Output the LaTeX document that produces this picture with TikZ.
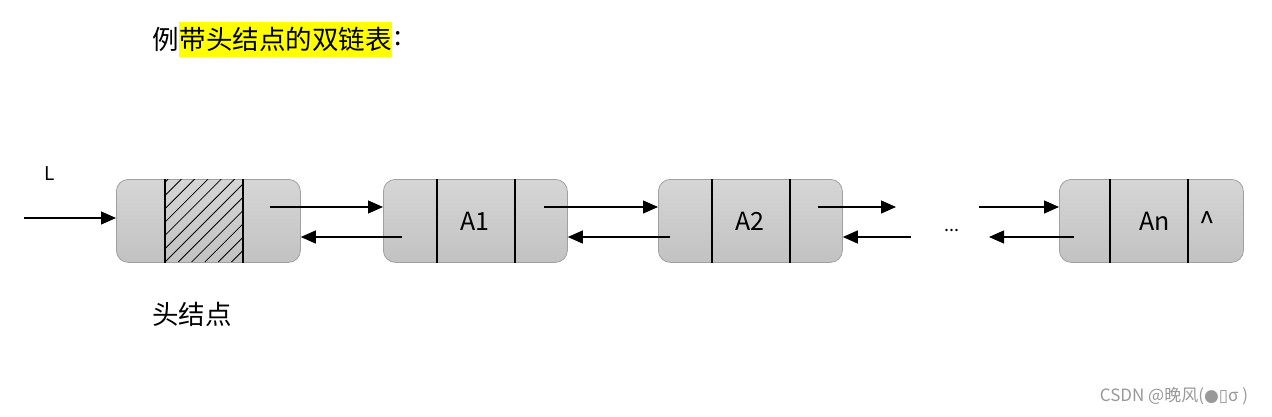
\documentclass[tikz,border=0pt]{standalone}
\usepackage{fontspec}
\setmainfont{Liberation Sans}
\newfontfamily\cjk{Noto Sans CJK SC}
\newfontfamily\djv{DejaVu Sans}
\usetikzlibrary{arrows.meta}
\definecolor{boxtop}{RGB}{214,214,214}
\definecolor{boxbot}{RGB}{194,194,194}
\definecolor{boxline}{RGB}{160,160,160}
\definecolor{hl}{RGB}{255,255,0}
\tikzset{
  cellbox/.style={draw=boxline, line width=0.8pt, rounded corners=12pt, top color=boxtop, bottom color=boxbot, minimum width=184pt, minimum height=83pt, inner sep=0pt, anchor=north west},
  divider/.style={draw=black, line width=1.1pt},
  arr/.style={draw=black, line width=1.2pt, -{Triangle[length=15pt,width=13pt]}},
  lbl/.style={font=\cjk\fontsize{25}{30}\selectfont, inner sep=0pt},
  ttl/.style={font=\cjk\fontsize{26.5}{31}\selectfont, inner sep=0pt}
}
\begin{document}
\begin{tikzpicture}[x=1pt,y=-1pt]
\path[use as bounding box, fill=white] (0,0) rectangle (1272,416);
% title
\node[ttl, anchor=west] (t1) at (152,39) {例};
\node[ttl, anchor=west, fill=hl, minimum height=35pt, inner xsep=0.5pt] (t2) at (t1.east) {带头结点的双链表};
\node[ttl, anchor=west, inner xsep=2pt] (t3) at (t2.east) {:};
% boxes
\node[cellbox] (h) at (116,179) {};
\node[cellbox] (a1) at (383,179) {};
\node[cellbox] (a2) at (658,179) {};
\node[cellbox] (an) at (1059,179) {};
% hatch
\begin{scope}
\clip (165,179) rectangle (243,262);
\foreach \k in {-7,...,7} {
  \draw[line width=0.8pt] ({165+\k*13.3},262) -- ({165+\k*13.3+83},179);
}
\end{scope}
% dividers
\foreach \b/\p/\q in {h/49/127, a1/54/132, a2/54/132, an/51/129} {
  \draw[divider] ([xshift=\p pt]\b.north west) -- ([xshift=\p pt]\b.south west);
  \draw[divider] ([xshift=\q pt]\b.north west) -- ([xshift=\q pt]\b.south west);
}
% labels
\node[lbl] (la1) at (475,221) {A1};
\node[lbl] (la2) at (750,221) {A2};
\node[lbl] (lan) at (1155,221) {An};
\node[lbl, font=\cjk\fontsize{28}{32}\selectfont] (lcar) at (1207,222) {\^{}};
\node[lbl, font=\cjk\fontsize{19}{24}\selectfont] (lL) at (50,174) {L};
\node[ttl, anchor=west] (lhead) at (152,314) {头结点};
\node[lbl, font=\cjk\fontsize{18}{22}\selectfont] (dots) at (952,230) {...};
% arrows
\coordinate (L0) at (24,218);
\draw[arr] (L0) -- (L0 -| h.west);
\coordinate (hn) at (270,207);
\draw[arr] (hn) -- (hn -| a1.west);
\coordinate (a1p) at (402,237);
\draw[arr] (a1p) -- (a1p -| h.east);
\coordinate (a1n) at (544,207);
\draw[arr] (a1n) -- (a1n -| a2.west);
\coordinate (a2p) at (670,237);
\draw[arr] (a2p) -- (a2p -| a1.east);
\coordinate (a2n) at (818,207);
\coordinate (a2ne) at (896,207);
\draw[arr] (a2n) -- (a2ne);
\coordinate (mp) at (911,237);
\draw[arr] (mp) -- (mp -| a2.east);
\coordinate (mn) at (979,207);
\draw[arr] (mn) -- (mn -| an.west);
\coordinate (anp) at (1074,237);
\coordinate (anpe) at (989,237);
\draw[arr] (anp) -- (anpe);
% watermark
\node[inner sep=0pt, text=black!40, font=\cjk\fontsize{17}{20}\selectfont] (wm) at (1174,396) {CSDN @晚风({\djv ●▯}σ )};
\end{tikzpicture}
\end{document}
